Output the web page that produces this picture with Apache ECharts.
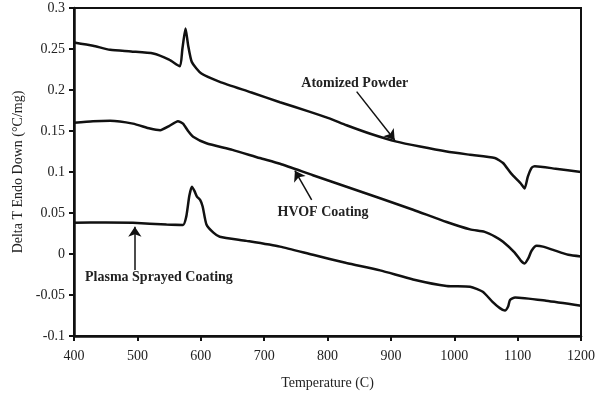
<!DOCTYPE html>
<html>
<head>
<meta charset="utf-8">
<script src="https://cdn.jsdelivr.net/npm/echarts@6/dist/echarts.min.js"></script>
<style>html,body{margin:0;padding:0;background:#fff}#c{width:603px;height:398px}</style>
</head>
<body>
<div id="c"></div>
<script>
const xTicks = [400,500,600,700,800,900,1000,1100,1200];
const yTicks = [-0.1,-0.05,0,0.05,0.1,0.15,0.2,0.25,0.3];

const atomized = [[400,0.258],[430,0.254],[457,0.249],[490,0.247],[525,0.2445],[550,0.237],[567,0.229],[571,0.250],[576,0.275],[580,0.255],[586,0.234],[601,0.220],[630,0.210],[680,0.197],[725,0.185],[770,0.174],[804,0.165],[830,0.157],[870,0.146],[909,0.137],[946,0.131],[988,0.125],[1025,0.121],[1064,0.117],[1077,0.111],[1090,0.098],[1105,0.086],[1111,0.080],[1116,0.094],[1122,0.105],[1127,0.107],[1160,0.104],[1200,0.100]];

const hvof = [[400,0.160],[430,0.162],[457,0.1625],[493,0.159],[520,0.153],[536,0.151],[550,0.156],[564,0.162],[572,0.159],[580,0.150],[588,0.143],[609,0.135],[650,0.127],[693,0.117],[725,0.110],[777,0.096],[830,0.082],[883,0.068],[935,0.054],[988,0.039],[1025,0.030],[1048,0.027],[1065,0.021],[1077,0.015],[1095,0.002],[1105,-0.008],[1111,-0.0115],[1117,-0.005],[1122,0.004],[1130,0.010],[1140,0.009],[1156,0.005],[1180,-0.001],[1200,-0.003]];

const plasma = [[400,0.038],[450,0.0385],[493,0.038],[546,0.036],[572,0.0355],[577,0.045],[582,0.071],[586,0.082],[590,0.077],[594,0.070],[599,0.066],[603,0.058],[609,0.036],[620,0.026],[630,0.021],[672,0.016],[725,0.009],[777,-0.001],[830,-0.011],[883,-0.020],[935,-0.031],[988,-0.039],[1025,-0.040],[1045,-0.046],[1060,-0.058],[1072,-0.066],[1080,-0.069],[1085,-0.064],[1088,-0.056],[1096,-0.053],[1145,-0.057],[1200,-0.063]];

const labelNames = ['Atomized Powder','HVOF Coating','Plasma Sprayed Coating'];
const labelPos = [[843,0.2085],[793,0.051],[534,-0.029]];
const arrowFrom = [[846,0.198],[775,0.066],[496,-0.0195]];
const arrowTo = [[906,0.139],[748.6,0.1016],[496,0.0333]];

const FONT = '"Liberation Serif", "DejaVu Serif", serif';
const chart = echarts.init(document.getElementById('c'));

function lineSeries(name, data, idx){
  return {
    name, type:'line', data, showSymbol:false, smooth:0.2,
    lineStyle:{color:'#111', width:2.5}, animation:false,
    markLine:{
      silent:true, animation:false,
      symbol:['none','arrow'], symbolSize:10,
      lineStyle:{color:'#111', width:1.5, type:'solid'},
      itemStyle:{color:'#111'},
      label:{show:false},
      data:[[{coord:arrowFrom[idx]},{coord:arrowTo[idx]}]]
    },
    markPoint:{
      silent:true, animation:false, symbol:'circle', symbolSize:0,
      label:{show:true, formatter:labelNames[idx], color:'#222', fontFamily:FONT, fontWeight:'bold', fontSize:14, position:'inside'},
      data:[{coord:labelPos[idx]}]
    }
  };
}

chart.setOption({
  animation:false,
  grid:{left:74, right:22, top:8, bottom:62, show:true, borderColor:'#111', borderWidth:2},
  xAxis:{
    type:'value', min:400, max:1200, interval:100,
    name:'Temperature (C)', nameLocation:'middle', nameGap:40,
    nameTextStyle:{fontFamily:FONT, fontSize:14, color:'#222'},
    axisLine:{show:true, onZero:false, lineStyle:{color:'#111', width:2.5}},
    axisTick:{show:true, length:5, lineStyle:{color:'#111', width:2}},
    axisLabel:{fontFamily:FONT, fontSize:14, color:'#222', margin:13, formatter:v=>String(v)},
    splitLine:{show:false}
  },
  yAxis:{
    type:'value', min:-0.1, max:0.3, interval:0.05,
    name:'Delta T Endo Down (°C/mg)', nameLocation:'middle', nameGap:48,
    nameTextStyle:{fontFamily:FONT, fontSize:14, color:'#222'},
    axisLine:{show:true, onZero:false, lineStyle:{color:'#111', width:2.5}},
    axisTick:{show:true, length:5, lineStyle:{color:'#111', width:2}},
    axisLabel:{fontFamily:FONT, fontSize:14, color:'#222', margin:9,
      formatter:v=>{const r=Math.round(v*100)/100; return String(r);}},
    splitLine:{show:false}
  },
  series:[lineSeries('Atomized Powder', atomized, 0), lineSeries('HVOF Coating', hvof, 1), lineSeries('Plasma Sprayed Coating', plasma, 2)]
});
</script>
</body>
</html>
